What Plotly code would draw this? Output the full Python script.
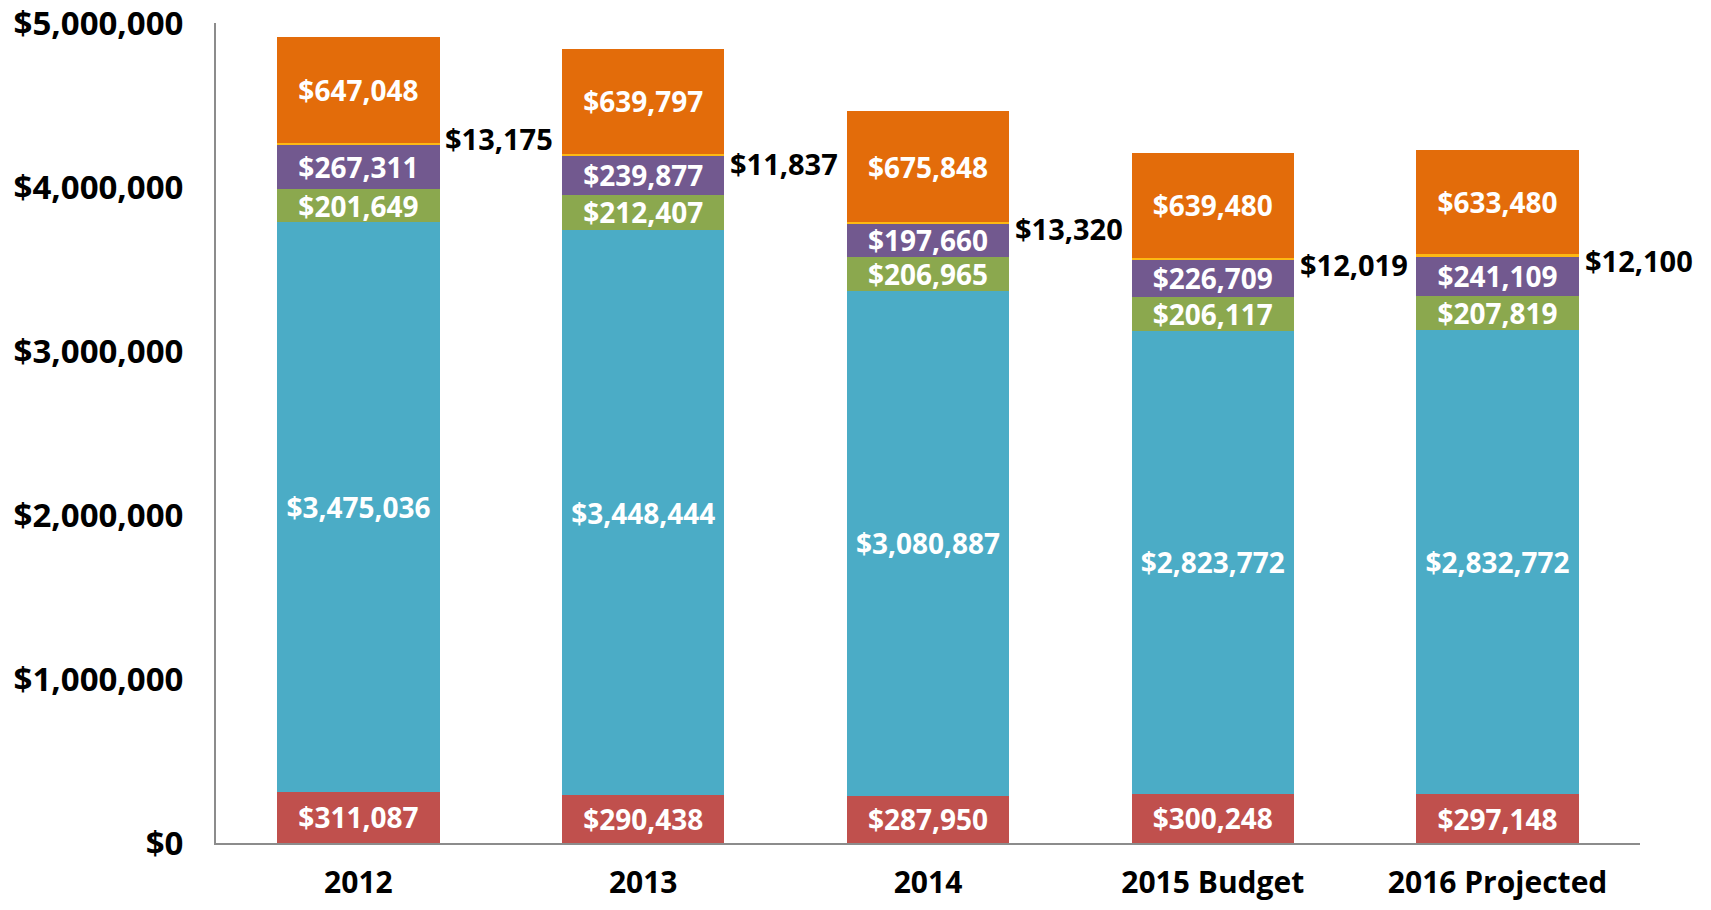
import plotly.graph_objects as go

categories = ["2012", "2013", "2014", "2015 Budget", "2016 Projected"]
red_vals = [311087, 290438, 287950, 300248, 297148]
blue_vals = [3475036, 3448444, 3080887, 2823772, 2832772]
green_vals = [201649, 212407, 206965, 206117, 207819]
purple_vals = [267311, 239877, 197660, 226709, 241109]
yellow_vals = [13175, 11837, 13320, 12019, 12100]
orange_vals = [647048, 639797, 675848, 639480, 633480]
y_ticks = [0, 1000000, 2000000, 3000000, 4000000, 5000000]

# label placement offsets (pixels) for the outside yellow-segment labels
yellow_label_yshift = [6, -9, -5, -6, -5]

FONT = "Open Sans"
series = [
    ("Red", red_vals, "#C0504D", True),
    ("Blue", blue_vals, "#4BACC6", True),
    ("Green", green_vals, "#8BA84E", True),
    ("Purple", purple_vals, "#72598F", True),
    ("Yellow", yellow_vals, "#FDB813", False),
    ("Orange", orange_vals, "#E36C0A", True),
]

fig = go.Figure()
for name, vals, color, show in series:
    fig.add_trace(go.Bar(
        x=categories, y=vals, name=name,
        marker=dict(color=color, line=dict(width=0)),
        text=[f"${v:,}" for v in vals] if show else None,
        textposition="inside" if show else "none",
        insidetextanchor="middle",
        textangle=0,
        constraintext="none",
        textfont=dict(family=FONT, size=28, color="white", weight=700),
        hoverinfo="skip",
    ))

# outside labels for the thin yellow segment (x given as category index)
for i, c in enumerate(categories):
    base = red_vals[i] + blue_vals[i] + green_vals[i] + purple_vals[i]
    fig.add_annotation(
        x=i, y=base + yellow_vals[i] / 2, text=f"${yellow_vals[i]:,}",
        showarrow=False, xanchor="left", yanchor="middle",
        xshift=85, yshift=yellow_label_yshift[i],
        font=dict(family=FONT, size=29, color="black", weight=700),
    )

fig.update_layout(
    barmode="stack",
    bargap=0.43,
    width=1695, height=894,
    margin=dict(l=208, r=63, t=15, b=59, autoexpand=False),
    plot_bgcolor="white", paper_bgcolor="white",
    showlegend=False,
    xaxis=dict(
        type="category", range=[-0.5, len(categories) - 0.5],
        showline=True, linecolor="#8C8C8C", linewidth=2,
        ticks="", showgrid=False, automargin=False,
        ticklabeloverflow="allow",
        tickfont=dict(family=FONT, size=30, color="black", weight=700),
        ticklabelstandoff=12,
    ),
    yaxis=dict(
        range=[0, 5000000], tickvals=y_ticks,
        ticktext=[f"${v:,}" for v in y_ticks],
        showline=True, linecolor="#8C8C8C", linewidth=2,
        showgrid=False, zeroline=False, ticks="", automargin=False,
        ticklabeloverflow="allow",
        tickfont=dict(family=FONT, size=33, color="black", weight=700),
        ticklabelstandoff=24,
    ),
)

fig.write_html("out.html")
